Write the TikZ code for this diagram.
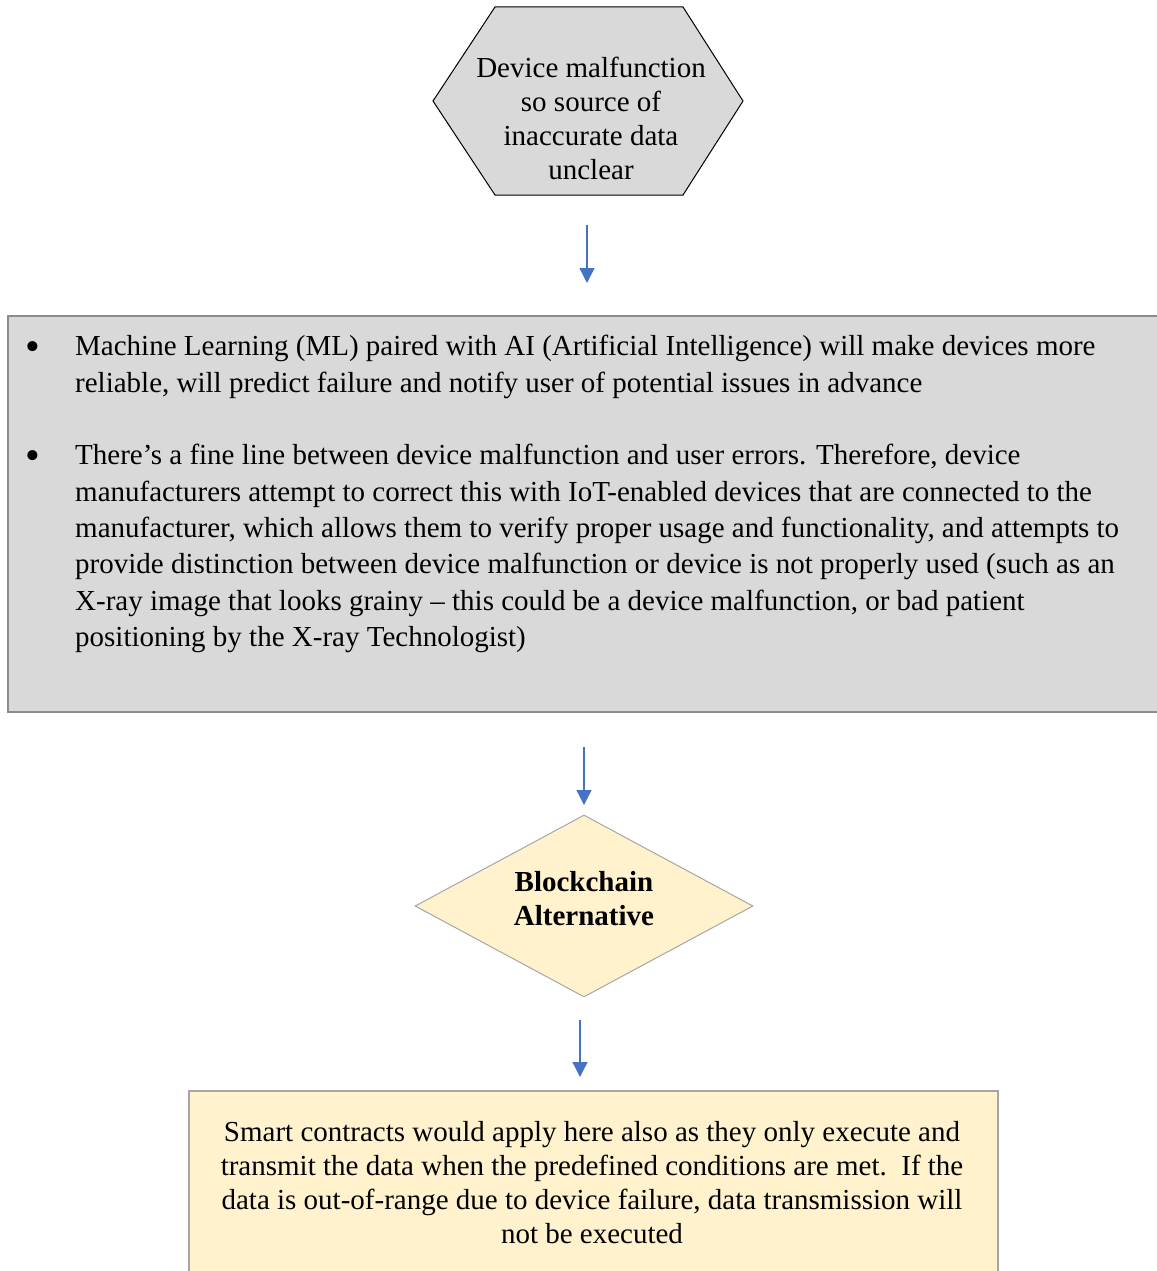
\documentclass[tikz,border=0pt]{standalone}
\usepackage{fontspec}
\setmainfont{Liberation Serif}
\usetikzlibrary{arrows.meta,shapes.geometric}
\definecolor{greyfill}{HTML}{D9D9D9}
\definecolor{creamfill}{HTML}{FFF2CC}
\definecolor{arrowblue}{HTML}{4472C4}
\definecolor{boxline}{HTML}{8C8C8C}
\definecolor{lightline}{HTML}{A6A6A6}
\begin{document}
\begin{tikzpicture}[x=1pt,y=-1pt,
  flow/.style={draw=arrowblue, line width=1.3pt, -{Triangle[length=15pt,width=15pt]}},
  txt/.style={inner sep=0pt, font=\fontsize{29}{34}\selectfont, align=center},
  bigtxt/.style={inner sep=0pt, font=\fontsize{29}{36.4}\selectfont, align=left, anchor=north west},
  bul/.style={inner sep=0pt, font=\fontsize{42}{42}\selectfont}]
\useasboundingbox (0,0) rectangle (1156,1271);
% hexagon
\draw[fill=greyfill, line width=1pt] (495,7) -- (683,7) -- (743,101) -- (683,195) -- (495,195) -- (433,101) -- cycle;
\node[txt] (hex) at (591,118) {Device malfunction\\so source of\\inaccurate data\\unclear};
% arrow 1
\coordinate (a1s) at (587,225);
\coordinate (a1e) at (587,283);
\draw[flow] (a1s) -- (a1e);
% big grey box
\node[rectangle, draw=boxline, fill=greyfill, line width=1.5pt, inner sep=0pt,
      minimum width=1160pt, minimum height=396pt, anchor=north west] (mlbox) at (7,315) {};
\node[bul] (b1) at (33,351) {\textbullet};
\node[bul] (b2) at (33,460) {\textbullet};
\node[bigtxt] (p1) at (75,335) {Machine Learning (ML) paired with AI (Artificial Intelligence) will make devices more\\reliable, will predict failure and notify user of potential issues in advance};
\node[bigtxt] (p2) at (75,444) {There’s a fine line between device malfunction and user errors. Therefore, device\\manufacturers attempt to correct this with IoT-enabled devices that are connected to the\\manufacturer, which allows them to verify proper usage and functionality, and attempts to\\provide distinction between device malfunction or device is not properly used (such as an\\X-ray image that looks grainy – this could be a device malfunction, or bad patient\\positioning by the X-ray Technologist)};
% arrow 2
\coordinate (a2s) at (584,747);
\coordinate (a2e) at (584,805);
\draw[flow] (a2s) -- (a2e);
% diamond
\node[diamond, draw=lightline, fill=creamfill, line width=1pt, inner sep=0pt,
      minimum width=338pt, minimum height=182pt] (bc) at (584,906) {};
\node[txt, font=\fontsize{29}{34}\selectfont\bfseries] (bctext) at (584,899) {Blockchain\\Alternative};
% arrow 3
\coordinate (a3s) at (580,1020);
\coordinate (a3e) at (580,1077);
\draw[flow] (a3s) -- (a3e);
% bottom box
\node[rectangle, draw=lightline, fill=creamfill, line width=1.5pt, inner sep=0pt,
      minimum width=809pt, minimum height=200pt, anchor=north west] (sc) at (188,1090) {};
\node[txt] (sctext) at (592,1183) {Smart contracts would apply here also as they only execute and\\transmit the data when the predefined conditions are met.\ \ If the\\data is out-of-range due to device failure, data transmission will\\not be executed};
\end{tikzpicture}
\end{document}
